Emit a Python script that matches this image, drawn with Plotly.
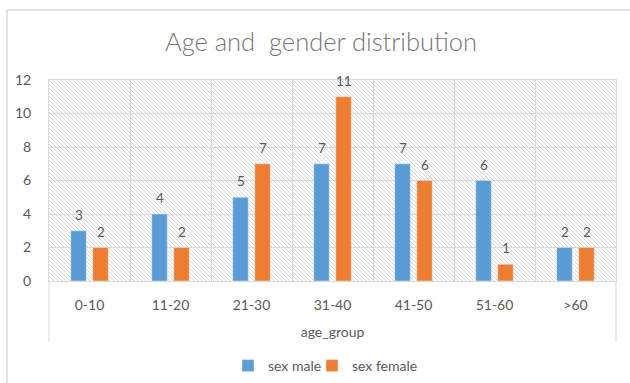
import base64
import plotly.graph_objects as go

categories = ["0-10", "11-20", "21-30", "31-40", "41-50", "51-60", ">60"]
male = [3, 4, 5, 7, 7, 6, 2]
female = [2, 2, 7, 11, 6, 1, 2]

W, H = 630, 383
ML, MR, MT, MB = 49, 14, 80, 102
PW, PH = W - ML - MR, H - MT - MB

svg = (
    f"<svg xmlns='http://www.w3.org/2000/svg' width='{PW}' height='{PH}'>"
    "<defs><pattern id='p' width='4' height='4' patternUnits='userSpaceOnUse'>"
    "<path d='M-1,-1 L5,5 M-1,3 L1,5 M3,-1 L5,1' stroke='#d6d6d6' stroke-width='1'/>"
    "</pattern></defs>"
    f"<rect width='{PW}' height='{PH}' fill='white'/>"
    f"<rect width='{PW}' height='{PH}' fill='url(#p)'/></svg>"
)
src = "data:image/svg+xml;base64," + base64.b64encode(svg.encode()).decode()

txt = "#595959"
grid = "#d9d9d9"

fig = go.Figure()
fig.add_trace(go.Bar(name="sex male", x=categories, y=male, marker_color="#5B9BD5",
                     legend="legend"))
fig.add_trace(go.Bar(name="sex female", x=categories, y=female, marker_color="#ED7D31",
                     legend="legend2"))

annotations = []
for series, shift in ((male, -11), (female, 11)):
    for c, v in zip(categories, series):
        annotations.append(dict(x=c, y=v, xref="x", yref="y", text=str(v), showarrow=False,
                                xshift=shift, yshift=16, yanchor="middle",
                                font=dict(size=13.5, color=txt)))


def px_x(p):
    return (p - ML) / PW


def px_y(p):
    return (H - MB - p) / PH


shapes = [
    dict(type="line", xref="paper", yref="paper", x0=px_x(7), x1=px_x(640), y0=px_y(10), y1=px_y(10),
         line=dict(color=grid, width=1.5)),
    dict(type="line", xref="paper", yref="paper", x0=px_x(7), x1=px_x(7), y0=px_y(10), y1=px_y(390),
         line=dict(color=grid, width=1.5)),
    dict(type="line", xref="paper", yref="paper", x0=0, x1=0, y0=0, y1=px_y(342),
         line=dict(color=grid, width=1)),
    dict(type="line", xref="paper", yref="paper", x0=1, x1=1, y0=0, y1=px_y(342),
         line=dict(color=grid, width=1)),
]

leg_common = dict(orientation="h", xanchor="left", yanchor="middle", y=px_y(366),
                  font=dict(size=14, color=txt), itemwidth=30, bgcolor="rgba(0,0,0,0)")

fig.update_layout(
    width=W, height=H,
    margin=dict(l=ML, r=MR, t=MT, b=MB, autoexpand=False),
    paper_bgcolor="white", plot_bgcolor="rgba(0,0,0,0)",
    font=dict(family="Lato", color=txt, size=14),
    title=dict(text="Age and  gender distribution", x=321 / W, xanchor="center",
               xref="container", y=1 - 42 / H, yanchor="middle",
               font=dict(family="Lato", size=25.5, color="#757575", weight=300)),
    barmode="group", bargap=0.457, bargroupgap=0.295,
    showlegend=True,
    legend=dict(x=px_x(228), **leg_common),
    legend2=dict(x=px_x(312), **leg_common),
    images=[dict(source=src, xref="paper", yref="paper", x=0, y=1, sizex=1, sizey=1,
                 xanchor="left", yanchor="top", sizing="stretch", layer="below")],
    shapes=shapes,
    annotations=annotations,
)
fig.update_xaxes(type="category", tickson="boundaries", showgrid=True, gridcolor=grid,
                 showline=True, mirror=True, linecolor=grid, ticks="", ticklen=0,
                 tickfont=dict(size=14, color=txt), ticklabelstandoff=11, automargin=False,
                 title=dict(text="age_group", font=dict(size=14, color=txt), standoff=15))
fig.update_yaxes(range=[0, 12], dtick=2, showgrid=True, gridcolor=grid,
                 showline=True, mirror=True, linecolor=grid, zeroline=False, automargin=False,
                 tickfont=dict(size=14, color=txt), ticklabelstandoff=14)

fig.write_html("out.html")
